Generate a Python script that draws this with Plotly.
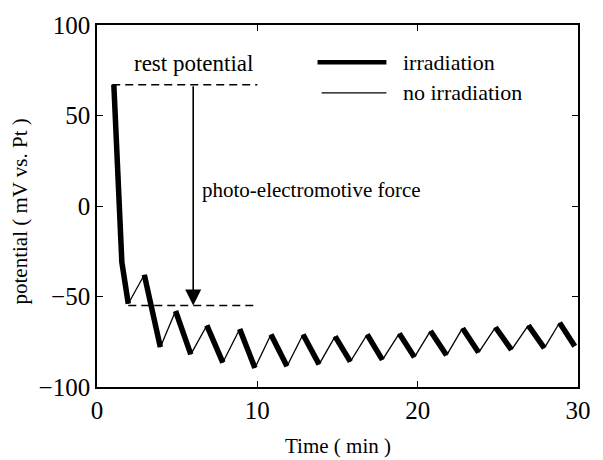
import plotly.graph_objects as go

# Vertex times (min) and potentials (mV vs. Pt) of the measured curve
times = [1.05, 1.55, 1.95, 2.95, 3.95, 4.9, 5.85, 6.85, 7.85, 8.9, 9.85,
         10.85, 11.85, 12.85, 13.85, 14.85, 15.8, 16.85, 17.8, 18.85, 19.8,
         20.8, 21.8, 22.8, 23.8, 24.85, 25.85, 26.9, 27.9, 28.85, 29.8]
potentials = [67, -31, -54, -38, -78, -58, -82, -66, -86.5, -68, -89.5,
              -71, -88.5, -71, -87.5, -72, -86, -71, -85, -70.5, -83.5,
              -69, -82.5, -67.5, -81, -67, -79.5, -66, -78.5, -64.5, -77.5]

rest_potential = 67
after_potential = -55
rest_span = [0.95, 10.0]
after_span = [1.95, 10.0]
arrow_time = 6.0

x_ticks = [0, 10, 20, 30]
y_ticks = [-100, -50, 0, 50, 100]

# Build thick (irradiation, falling) and thin (no irradiation, rising) segments
thick_x, thick_y, thin_x, thin_y = [], [], [], []
thick_x += times[0:3] + [None]
thick_y += potentials[0:3] + [None]
for i in range(2, len(times) - 1):
    seg_x = [times[i], times[i + 1], None]
    seg_y = [potentials[i], potentials[i + 1], None]
    if potentials[i + 1] > potentials[i]:
        thin_x += seg_x
        thin_y += seg_y
    else:
        thick_x += seg_x
        thick_y += seg_y

SERIF = "Liberation Serif, Times New Roman, serif"

fig = go.Figure()
fig.add_trace(go.Scatter(x=thin_x, y=thin_y, mode="lines",
                         line=dict(color="black", width=1.3),
                         name="no irradiation", showlegend=False))
fig.add_trace(go.Scatter(x=thick_x, y=thick_y, mode="lines",
                         line=dict(color="black", width=5.5),
                         name="irradiation", showlegend=False))

shapes = [
    dict(type="line", xref="x", yref="y", x0=rest_span[0], x1=rest_span[1],
         y0=rest_potential, y1=rest_potential,
         line=dict(color="black", width=1.5, dash="8px,5px")),
    dict(type="line", xref="x", yref="y", x0=after_span[0], x1=after_span[1],
         y0=after_potential, y1=after_potential,
         line=dict(color="black", width=1.5, dash="8px,5px")),
    # legend samples
    dict(type="line", xref="paper", yref="paper", x0=0.4585, x1=0.6017,
         y0=0.897, y1=0.897, line=dict(color="black", width=4.5)),
    dict(type="line", xref="paper", yref="paper", x0=0.467, x1=0.6017,
         y0=0.8125, y1=0.8125, line=dict(color="black", width=1.2)),
]

annotations = [
    dict(x=arrow_time, y=after_potential, ax=arrow_time, ay=rest_potential,
         xref="x", yref="y", axref="x", ayref="y", text="", showarrow=True,
         arrowhead=2, arrowsize=2, arrowwidth=1.6, arrowcolor="black",
         standoff=0, startstandoff=0),
    dict(x=6.0, y=79, xref="x", yref="y", text="rest potential",
         showarrow=False, xanchor="center", yanchor="middle",
         font=dict(family=SERIF, size=23, color="black")),
    dict(x=6.45, y=9, xref="x", yref="y", text="photo-electromotive force",
         showarrow=False, xanchor="left", yanchor="middle",
         font=dict(family=SERIF, size=21, color="black")),
    dict(x=0.633, y=0.897, xref="paper", yref="paper", text="irradiation",
         showarrow=False, xanchor="left", yanchor="middle",
         font=dict(family=SERIF, size=22, color="black")),
    dict(x=0.633, y=0.8125, xref="paper", yref="paper", text="no irradiation",
         showarrow=False, xanchor="left", yanchor="middle",
         font=dict(family=SERIF, size=22, color="black")),
    dict(x=0.5, y=-0.163, xref="paper", yref="paper", text="Time ( min )",
         showarrow=False, xanchor="center", yanchor="middle",
         font=dict(family=SERIF, size=21, color="black")),
    dict(x=-0.16, y=0.485, xref="paper", yref="paper",
         text="potential ( mV vs. Pt )", textangle=-90,
         showarrow=False, xanchor="center", yanchor="middle",
         font=dict(family=SERIF, size=21, color="black")),
]

axis_common = dict(showline=True, linecolor="black", linewidth=1.6,
                   mirror="ticks", ticks="inside", ticklen=6, tickwidth=1,
                   tickcolor="black", showgrid=False, zeroline=False,
                   tickfont=dict(family=SERIF, size=25, color="black"))

fig.update_layout(
    width=603, height=460,
    margin=dict(l=97, r=24, t=19, b=73),
    paper_bgcolor="white", plot_bgcolor="white",
    xaxis=dict(range=[0, 30], tickvals=x_ticks, **axis_common),
    yaxis=dict(range=[-100, 100], tickvals=y_ticks, **axis_common),
    shapes=shapes, annotations=annotations, showlegend=False,
)

fig.write_html("out.html")
